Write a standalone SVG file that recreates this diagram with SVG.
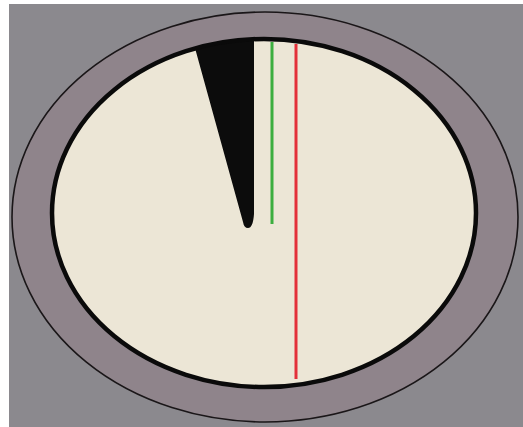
<svg xmlns="http://www.w3.org/2000/svg" width="523" height="427" viewBox="0 0 523 427">
  <defs>
    <clipPath id="innerClip">
      <ellipse cx="264" cy="213" rx="212" ry="174"/>
    </clipPath>
  </defs>
  <style>
    .bg { fill: #8b898e; }
    .ring { fill: #8f848b; stroke: #1a1618; stroke-width: 1.6; }
    .face { fill: #ece6d6; }
    .rim { fill: none; stroke: #0a0a0a; stroke-width: 4.5; }
    .needle { stroke-width: 3; stroke-linecap: butt; }
  </style>
  <rect x="0" y="0" width="523" height="427" fill="#ffffff"/>
  <rect class="bg" x="9" y="4" width="514" height="423"/>
  <g id="outer-ring">
    <ellipse class="ring" cx="265" cy="217" rx="253" ry="205"/>
  </g>
  <g id="dial-face">
    <ellipse class="face" cx="264" cy="213" rx="212" ry="174"/>
  </g>
  <g id="wedge" clip-path="url(#innerClip)">
    <path d="M190,30 L254,30 L254,214 Q253,228 248,228 Q244,228 243,222 Z" fill="#0c0c0c"/>
  </g>
  <g id="connectors">
    <line class="needle" x1="272" y1="42" x2="272" y2="224" stroke="#3cae3f"/>
    <line class="needle" x1="296" y1="44" x2="296" y2="379" stroke="#e3303a"/>
  </g>
  <g id="rim">
    <ellipse class="rim" cx="264" cy="213" rx="212" ry="174"/>
  </g>
</svg>
